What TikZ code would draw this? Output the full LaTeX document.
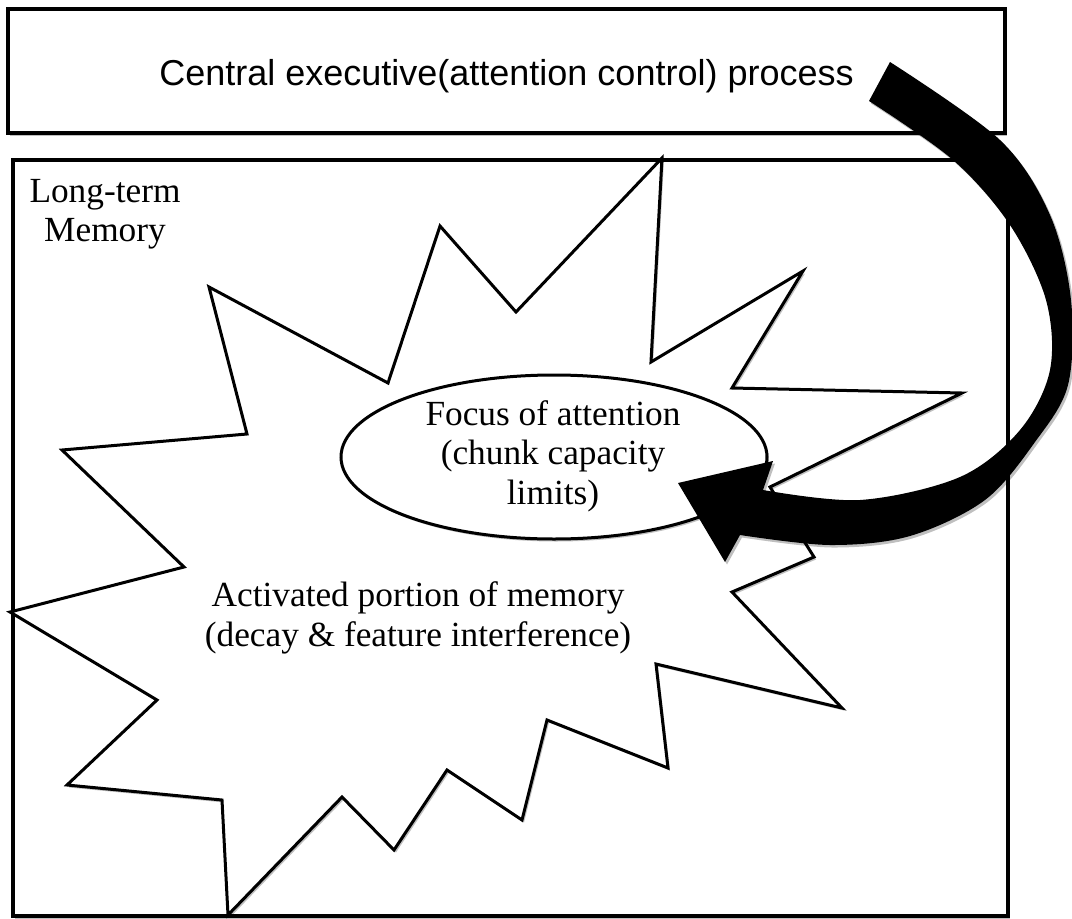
\documentclass[tikz,border=0pt]{standalone}
\usepackage{fontspec}
\setmainfont{Liberation Serif}
\newfontfamily\sansfont{Liberation Sans}
\usetikzlibrary{shapes.geometric,shadows}
\begin{document}
\begin{tikzpicture}[x=1pt,y=-1pt,
  soft shadow/.style={drop shadow={shadow xshift=2pt, shadow yshift=-2.5pt, opacity=0.25, fill=black}},
  panel/.style={rectangle, draw=black, line width=3.5pt, fill=white, inner sep=0pt, soft shadow},
  burst/.style={draw=black, line width=3pt, fill=white, line join=miter, soft shadow},
  focus/.style={ellipse, draw=black, line width=3pt, fill=white, inner sep=0pt, soft shadow},
  serif text/.style={font=\fontsize{35.3}{39.5}\selectfont, align=center, inner sep=0pt},
  sans text/.style={font=\sansfont\fontsize{36}{42}\selectfont, inner sep=0pt},
  bigarrow/.style={fill=black, soft shadow}]
\useasboundingbox (0,0) rectangle (1072,919);

% central executive box
\node[panel, minimum width=997pt, minimum height=124pt] (exec) at (506.5,71) {};
\node[sans text, anchor=base] (execlabel) at (506.5,85) {Central executive(attention control) process};

% long-term memory box
\node[panel, minimum width=995pt, minimum height=756pt] (ltm) at (510.5,538) {};
\node[serif text] (ltmlabel) at (105,214) {Long-term\\Memory};

% activated portion: a jagged starburst
\path[burst] (662,158) -- (651,362) -- (803,271) -- (732,388) -- (962,393)
  -- (770,487) -- (814,557) -- (732,592) -- (842,708) -- (656,664)
  -- (668,768) -- (547,720) -- (522,820) -- (447,770) -- (394,850)
  -- (342,797) -- (228,915) -- (222,800) -- (67,785) -- (157,700)
  -- (10,612) -- (184,567) -- (62,450) -- (247,434) -- (209,287)
  -- (388,383) -- (440,226) -- (516,312) -- cycle;

% focus of attention
\node[focus, minimum width=426pt, minimum height=164pt] (foa) at (554,457) {};
\node[serif text] (foalabel) at (553,456) {Focus of attention\\(chunk capacity\\limits)};

\node[serif text] (actlabel) at (418,618) {Activated portion of memory\\(decay \& feature interference)};

% curved block arrow from the executive to the focus
\fill[bigarrow] plot[smooth, tension=0.55] coordinates {(890,62) (1000,140) (1050,215) (1071,300) (1068,385) (1035,442) (985,500) (910,536) (830,545) (740,535)}
  -- (725,562) -- (678,483) -- (773,461) -- (763,490)
  -- plot[smooth, tension=0.55] coordinates {(763,490) (860,500) (960,477) (1020,430) (1050,370) (1046,300) (1010,225) (953,160) (869,101)}
  -- cycle;
\end{tikzpicture}
\end{document}
